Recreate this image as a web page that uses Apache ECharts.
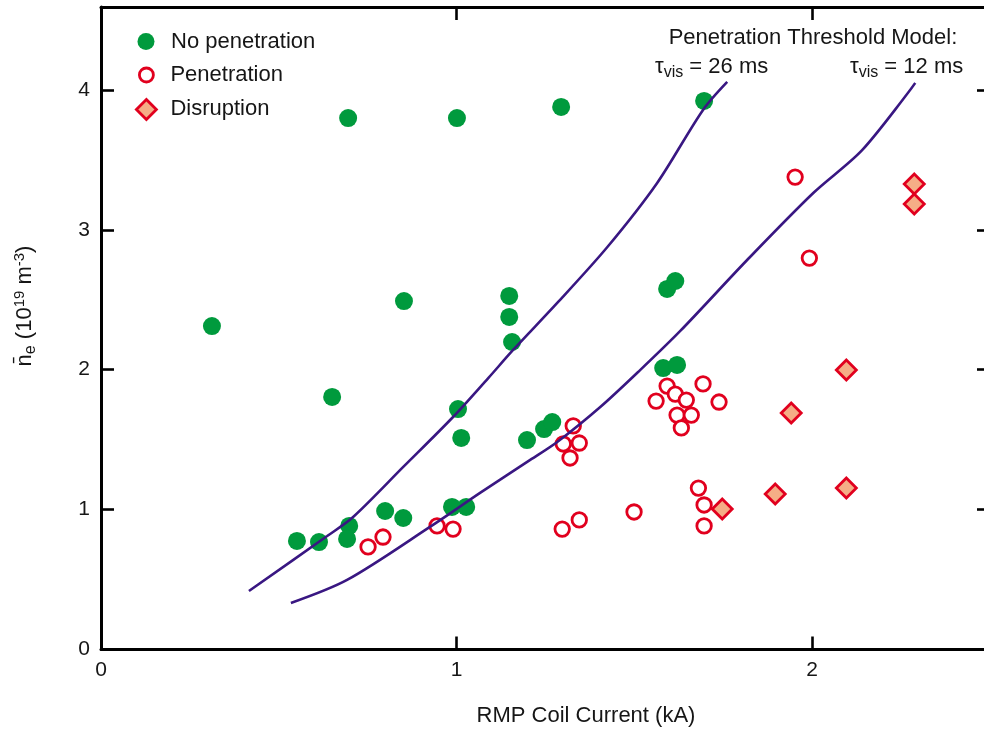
<!DOCTYPE html>
<html>
<head>
<meta charset="utf-8">
<script src="https://cdn.jsdelivr.net/npm/echarts@6/dist/echarts.min.js"></script>
<style>
html,body{margin:0;padding:0;background:#fff;}
#chart{width:984px;height:730px;}
</style>
</head>
<body>
<div id="chart"></div>
<script>
// ---- data (x: RMP coil current kA, y: density 1e19 m^-3) ----
const noPenetration = [
  [0.312,2.312],[0.551,0.776],[0.613,0.768],[0.698,0.883],[0.692,0.790],
  [0.650,1.805],[0.695,3.799],[0.799,0.990],[0.850,0.940],[0.852,2.491],
  [1.001,3.799],[1.004,1.719],[1.013,1.512],[0.987,1.019],[1.027,1.019],
  [1.148,2.527],[1.148,2.377],[1.156,2.198],[1.198,1.497],[1.246,1.576],
  [1.269,1.626],[1.294,3.878],[1.581,2.012],[1.620,2.034],[1.592,2.577],
  [1.615,2.634],[1.696,3.921]
];
const penetration = [
  [0.751,0.733],[0.793,0.804],[0.945,0.883],[0.990,0.861],[1.328,1.598],
  [1.300,1.469],[1.345,1.476],[1.319,1.369],[1.297,0.861],[1.345,0.926],
  [1.499,0.983],[1.561,1.776],[1.592,1.883],[1.615,1.826],[1.646,1.783],
  [1.693,1.898],[1.738,1.769],[1.620,1.676],[1.660,1.676],[1.632,1.584],
  [1.680,1.154],[1.696,1.033],[1.696,0.883],[1.952,3.377],[1.992,2.798]
];
const disruption = [
  [2.287,3.327],[2.287,3.184],[2.096,1.998],[1.941,1.690],[2.096,1.154],
  [1.896,1.112],[1.747,1.004]
];
const model26ms = [
  [0.416,0.418],[0.636,0.811],[0.709,0.947],[0.850,1.305],[0.990,1.662],
  [1.089,1.940],[1.159,2.141],[1.283,2.477],[1.424,2.877],[1.564,3.335],
  [1.693,3.857],[1.761,4.057]
];
const model12ms = [
  [0.534,0.332],[0.692,0.497],[0.925,0.876],[1.066,1.119],[1.207,1.355],
  [1.283,1.483],[1.404,1.733],[1.516,1.997],[1.629,2.277],[1.817,2.784],
  [2.003,3.263],[2.141,3.571],[2.290,4.050]
];
const xTickLabels = [0, 1, 2];
const yTickLabels = [0, 1, 2, 3, 4];
const seriesNames = ['No penetration', 'Penetration', 'Disruption'];

// ---- styling ----
const FONT = '"Liberation Sans", Arial, Helvetica, sans-serif';
const TXT = '#161616';
const GREEN = '#009a3d';
const RED = '#e1001e';
const SALMON = '#f5ad86';
const PURPLE = '#391782';
const FS = 22;

const axisLine = {show:true, onZero:false, lineStyle:{color:'#000', width:3}};
const tick = {show:true, inside:true, length:13, lineStyle:{color:'#000', width:2.6}};

function legendBox(name, left, top, size, pad, icon, itemStyle) {
  return {
    orient:'vertical', left:left, top:top, padding:0, itemWidth:size, itemHeight:size,
    textStyle:{fontFamily:FONT, fontSize:FS, color:TXT, padding:[0,0,0,pad]},
    data:[{name:name, icon:icon, itemStyle:itemStyle}]
  };
}

const chart = echarts.init(document.getElementById('chart'), null, {renderer:'canvas'});
chart.setOption({
  animation:false,
  backgroundColor:'#fff',
  grid:{left:101, top:7, width:889, height:642.5, containLabel:false, outerBoundsMode:'none'},
  legend:[
    legendBox(seriesNames[0], 137.5, 30.5, 17, 11.5, 'circle', {color:GREEN, borderWidth:0}),
    legendBox(seriesNames[1], 138, 64, 14, 12, 'circle', {color:'#fff', borderColor:RED, borderWidth:2.8}),
    legendBox(seriesNames[2], 135, 98, 20, 9, 'diamond', {color:SALMON, borderColor:RED, borderWidth:2.8})
  ],
  xAxis:[
    {type:'value', position:'bottom', min:0, max:2.5, interval:1,
     axisLine:axisLine, axisTick:tick, splitLine:{show:false},
     axisLabel:{show:true, margin:10, fontFamily:FONT, fontSize:21, color:TXT, showMaxLabel:false,
       formatter:v => xTickLabels.indexOf(v) >= 0 ? String(v) : ''}},
    {type:'value', position:'top', min:0, max:2.5, interval:1,
     axisLine:axisLine, axisTick:tick, splitLine:{show:false}, axisLabel:{show:false}}
  ],
  yAxis:[
    {type:'value', position:'left', min:0, max:4.5926, interval:1,
     axisLine:axisLine, axisTick:tick, splitLine:{show:false},
     axisLabel:{show:true, margin:11, fontFamily:FONT, fontSize:21, color:TXT, showMaxLabel:false,
       formatter:v => yTickLabels.indexOf(v) >= 0 ? String(v) : ''}},
    {type:'value', position:'right', min:0, max:4.5926, interval:1,
     axisLine:axisLine, axisTick:tick, splitLine:{show:false}, axisLabel:{show:false}}
  ],
  series:[
    {name:seriesNames[0], type:'scatter', data:noPenetration, symbol:'circle', symbolSize:18,
     itemStyle:{color:GREEN, opacity:1}, z:2},
    {name:seriesNames[1], type:'scatter', data:penetration, symbol:'circle', symbolSize:14.5,
     itemStyle:{color:'#fff', borderColor:RED, borderWidth:2.8, opacity:1}, z:3},
    {name:seriesNames[2], type:'scatter', data:disruption, symbol:'diamond', symbolSize:[20,20],
     itemStyle:{color:SALMON, borderColor:RED, borderWidth:2.8, opacity:1}, z:4},
    {name:'τvis = 26 ms', type:'line', data:model26ms, smooth:0.3, showSymbol:false, symbol:'none',
     lineStyle:{color:PURPLE, width:2.6}, z:5},
    {name:'τvis = 12 ms', type:'line', data:model12ms, smooth:0.3, showSymbol:false, symbol:'none',
     lineStyle:{color:PURPLE, width:2.6}, z:5}
  ],
  graphic:[
    {type:'text', x:813, y:38, z:10,
     style:{text:'Penetration Threshold Model:', fontFamily:FONT, fontSize:FS, fill:TXT,
            align:'center', verticalAlign:'middle'}},
    {type:'text', x:655, y:67, z:10,
     style:{text:'{t|τ}{s|vis}{t| = 26 ms}', align:'left', verticalAlign:'middle',
       rich:{t:{fontFamily:FONT, fontSize:FS, fill:TXT, lineHeight:24, verticalAlign:'middle'},
             s:{fontFamily:FONT, fontSize:16, fill:TXT, lineHeight:16, padding:[11,0,0,0], verticalAlign:'middle'}}}},
    {type:'text', x:850, y:67, z:10,
     style:{text:'{t|τ}{s|vis}{t| = 12 ms}', align:'left', verticalAlign:'middle',
       rich:{t:{fontFamily:FONT, fontSize:FS, fill:TXT, lineHeight:24, verticalAlign:'middle'},
             s:{fontFamily:FONT, fontSize:16, fill:TXT, lineHeight:16, padding:[11,0,0,0], verticalAlign:'middle'}}}},
    {type:'text', x:586, y:716, z:10,
     style:{text:'RMP Coil Current (kA)', fontFamily:FONT, fontSize:FS, fill:TXT,
            align:'center', verticalAlign:'middle'}},
    {type:'text', x:25, y:306, rotation:Math.PI/2, z:10,
     style:{text:'{t|n\u0304}{s|e}{t| (10}{p|19}{t| m}{p|-3}{t|)}', align:'center', verticalAlign:'middle',
       rich:{t:{fontFamily:FONT, fontSize:FS, fill:TXT, lineHeight:24, verticalAlign:'middle'},
             s:{fontFamily:FONT, fontSize:16, fill:TXT, lineHeight:16, padding:[11,0,0,0], verticalAlign:'middle'},
             p:{fontFamily:FONT, fontSize:15, fill:TXT, lineHeight:15, padding:[0,0,10,0], verticalAlign:'middle'}}}}
  ]
});
</script>
</body>
</html>
